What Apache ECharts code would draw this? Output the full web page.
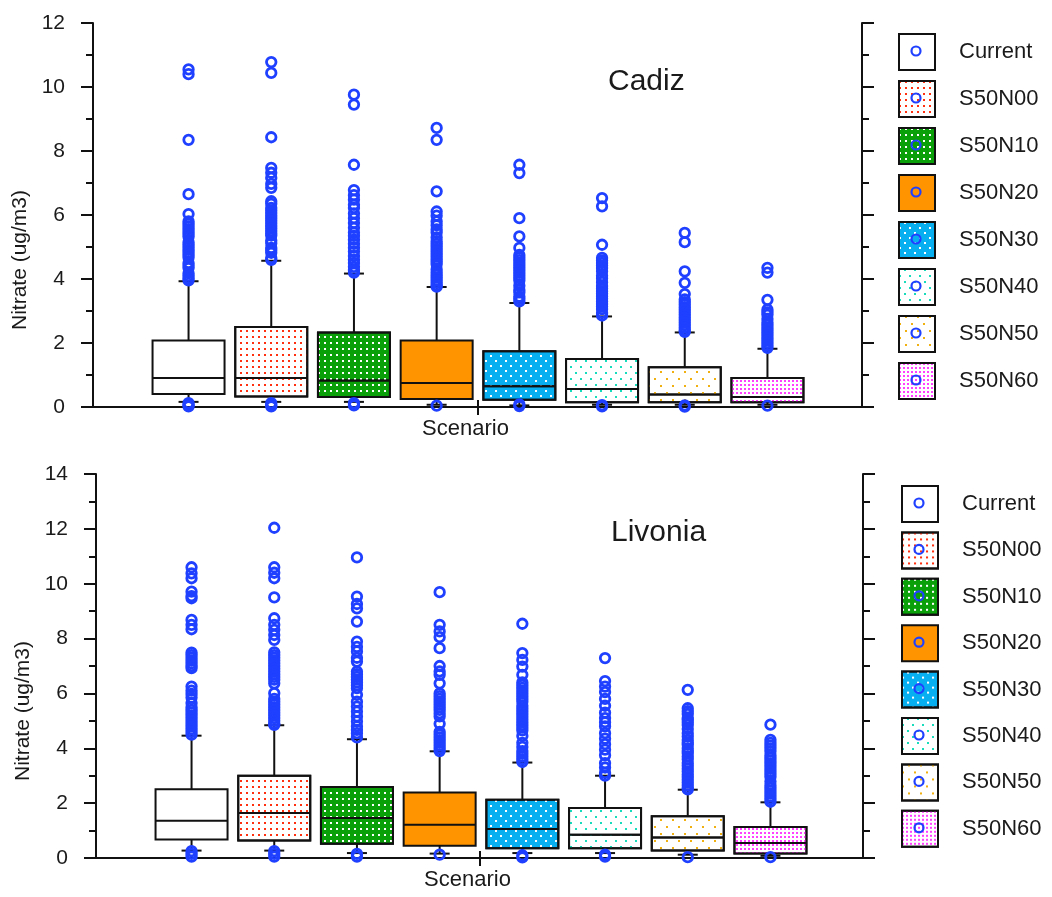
<!DOCTYPE html>
<html>
<head>
<meta charset="utf-8">
<script src="https://cdn.jsdelivr.net/npm/echarts@6/dist/echarts.min.js"></script>
<style>
  html, body { margin: 0; padding: 0; background: #ffffff; }
  #chart { width: 1052px; height: 897px; }
</style>
</head>
<body>
<div id="chart"></div>
<script>
// ---- data ---------------------------------------------------------------
const scenarios = ['Current', 'S50N00', 'S50N10', 'S50N20', 'S50N30', 'S50N40', 'S50N50', 'S50N60'];
const sites = ['Cadiz', 'Livonia'];
const xCategory = ['Scenario'];
const yAxisMax = [12, 14];
const yAxisStep = [2, 2];

// Cadiz: whiskers, quartiles and median per scenario (ug/m3)
const cadizLow    = [0.16, 0.16, 0.16, 0.07, 0.05, 0.07, 0.07, 0.07];
const cadizQ1     = [0.41, 0.33, 0.31, 0.25, 0.23, 0.15, 0.15, 0.15];
const cadizMedian = [0.91, 0.91, 0.83, 0.75, 0.65, 0.56, 0.39, 0.31];
const cadizQ3     = [2.08, 2.50, 2.33, 2.08, 1.74, 1.50, 1.24, 0.91];
const cadizHigh   = [3.93, 4.57, 4.17, 3.75, 3.25, 2.83, 2.33, 1.82];
const cadizOutliers = [
  [10.55, 10.4, 8.35, 6.65, 6.03, 5.8, 5.72, 5.64, 5.56, 5.48, 5.40, 5.32, 5.15, 5.07, 4.99, 4.91, 4.83, 4.75, 4.67, 4.50, 4.42, 4.34, 4.18, 4.10, 4.02, 3.96, 0.12, 0.06, 0.02],
  [10.78, 10.44, 8.43, 7.47, 7.32, 7.16, 6.97, 6.85, 6.43, 6.35, 6.22, 6.14, 6.06, 5.98, 5.90, 5.82, 5.74, 5.66, 5.58, 5.50, 5.42, 5.36, 5.20, 5.12, 4.97, 4.90, 4.82, 4.66, 4.60, 0.12, 0.06, 0.02],
  [9.76, 9.45, 7.57, 6.78, 6.62, 6.48, 6.32, 6.22, 6.05, 5.9, 5.75, 5.6, 5.45, 5.35, 5.23, 5.1, 4.98, 4.86, 4.72, 4.6, 4.5, 4.38, 4.28, 4.2, 0.12, 0.05],
  [8.72, 8.35, 6.74, 6.11, 5.98, 5.8, 5.68, 5.55, 5.45, 5.3, 5.18, 5.1, 5.02, 4.94, 4.86, 4.78, 4.7, 4.62, 4.54, 4.46, 4.3, 4.2, 4.12, 4.04, 3.96, 3.88, 3.8, 3.76, 0.04],
  [7.57, 7.31, 5.9, 5.33, 4.97, 4.75, 4.67, 4.59, 4.51, 4.43, 4.35, 4.27, 4.19, 4.11, 4.03, 3.95, 3.79, 3.66, 3.58, 3.45, 3.38, 3.3, 0.08, 0.03],
  [6.53, 6.27, 5.07, 4.66, 4.58, 4.5, 4.42, 4.34, 4.24, 4.1, 4.02, 3.9, 3.78, 3.7, 3.62, 3.54, 3.46, 3.38, 3.3, 3.22, 3.14, 3.06, 2.94, 2.86, 0.06, 0.02],
  [5.44, 5.15, 4.24, 3.88, 3.53, 3.36, 3.28, 3.2, 3.12, 3.04, 2.96, 2.88, 2.8, 2.72, 2.64, 2.56, 2.48, 2.4, 2.35, 0.05, 0.01],
  [4.35, 4.2, 3.35, 3.04, 2.96, 2.88, 2.75, 2.64, 2.56, 2.48, 2.4, 2.32, 2.24, 2.16, 2.08, 2.0, 1.92, 1.85, 0.04]
];

// Livonia: whiskers, quartiles and median per scenario (ug/m3)
const livoniaLow    = [0.27, 0.27, 0.18, 0.16, 0.18, 0.18, 0.12, 0.08];
const livoniaQ1     = [0.67, 0.64, 0.52, 0.45, 0.36, 0.36, 0.27, 0.16];
const livoniaMedian = [1.36, 1.64, 1.46, 1.21, 1.06, 0.85, 0.75, 0.55];
const livoniaQ3     = [2.51, 3.00, 2.59, 2.39, 2.12, 1.82, 1.52, 1.13];
const livoniaHigh   = [4.46, 4.84, 4.33, 3.89, 3.48, 3.00, 2.49, 2.03];
const livoniaOutliers = [
  [10.6, 10.38, 10.2, 9.71, 9.55, 9.47, 8.68, 8.5, 8.34, 7.49, 7.4, 7.3, 7.2, 7.1, 7.0, 6.92, 6.25, 6.1, 5.98, 5.85, 5.65, 5.5, 5.4, 5.3, 5.2, 5.1, 5.0, 4.9, 4.8, 4.7, 4.6, 4.5, 0.25, 0.15, 0.05],
  [12.04, 10.6, 10.4, 10.2, 9.5, 8.74, 8.5, 8.32, 8.13, 7.95, 7.5, 7.4, 7.3, 7.2, 7.1, 7.0, 6.9, 6.8, 6.7, 6.6, 6.5, 6.37, 6.01, 5.8, 5.7, 5.6, 5.5, 5.4, 5.3, 5.2, 5.1, 5.0, 4.9, 4.85, 0.25, 0.15, 0.05],
  [10.96, 9.53, 9.26, 9.1, 8.62, 7.89, 7.7, 7.53, 7.3, 7.16, 6.8, 6.7, 6.6, 6.5, 6.4, 6.3, 6.19, 5.95, 5.7, 5.52, 5.34, 5.16, 4.98, 4.8, 4.67, 4.55, 4.4, 0.15, 0.05],
  [9.69, 8.5, 8.26, 8.05, 7.65, 7.0, 6.8, 6.68, 6.37, 6.0, 5.9, 5.8, 5.7, 5.6, 5.5, 5.4, 5.28, 5.16, 4.89, 4.6, 4.5, 4.4, 4.3, 4.2, 4.1, 4.0, 3.9, 0.12],
  [8.54, 7.47, 7.22, 6.98, 6.68, 6.4, 6.3, 6.2, 6.1, 6.0, 5.9, 5.8, 5.7, 5.55, 5.45, 5.35, 5.25, 5.15, 5.05, 4.95, 4.85, 4.75, 4.65, 4.45, 4.2, 4.05, 3.9, 3.8, 3.7, 3.6, 3.5, 0.1, 0.02],
  [7.29, 6.45, 6.25, 6.05, 5.8, 5.55, 5.3, 5.1, 4.95, 4.8, 4.55, 4.35, 4.15, 3.95, 3.75, 3.46, 3.3, 3.1, 3.0, 0.12, 0.05],
  [6.13, 5.46, 5.35, 5.25, 5.1, 5.04, 4.95, 4.85, 4.7, 4.55, 4.43, 4.3, 4.2, 4.13, 4.0, 3.9, 3.82, 3.7, 3.6, 3.46, 3.36, 3.25, 3.15, 3.04, 2.95, 2.85, 2.75, 2.65, 2.55, 2.5, 0.03],
  [4.86, 4.31, 4.2, 4.1, 4.0, 3.89, 3.75, 3.65, 3.55, 3.45, 3.35, 3.25, 3.15, 3.05, 2.95, 2.79, 2.65, 2.55, 2.45, 2.35, 2.25, 2.15, 2.05, 0.03]
];

// ---- look ---------------------------------------------------------------
const FONT = '"Liberation Sans", Arial, Helvetica, sans-serif';
const INK = '#1a1a1a';
const OUTLIER_BLUE = '#1f40ff';

// fill colour and dot pattern of each scenario box
const scenarioLooks = [
  { fill: '#ffffff', decal: null },
  { fill: '#ffffff', decal: { symbol: 'rect', symbolSize: 1, color: '#ff3010', dashArrayX: [2, 4], dashArrayY: [2, 4] } },
  { fill: '#0aa00a', decal: { symbol: 'rect', symbolSize: 1, color: '#ffffff', dashArrayX: [2, 4], dashArrayY: [2, 4] } },
  { fill: '#ff9400', decal: null },
  { fill: '#07aff0', decal: { symbol: 'rect', symbolSize: 1, color: '#ffffff', dashArrayX: [[2, 8], [0, 5, 2, 3]], dashArrayY: [2, 3] } },
  { fill: '#ffffff', decal: { symbol: 'rect', symbolSize: 1, color: '#18dcbc', dashArrayX: [[2, 8], [0, 5, 2, 3]], dashArrayY: [2, 4] } },
  { fill: '#ffffff', decal: { symbol: 'rect', symbolSize: 1, color: '#f0b010', dashArrayX: [[2, 10], [0, 6, 2, 4]], dashArrayY: [2, 5] } },
  { fill: '#ffffff', decal: { symbol: 'rect', symbolSize: 1, color: '#ff40ff', dashArrayX: [2, 2], dashArrayY: [2, 2] } }
];

// panel frames (plot area) and legend placement
const panels = [
  { frame: { left: 93, top: 23, width: 769, height: 384 }, boxCenter: 478, title: { left: 603, top: 62 },
    legend: { left: 898, top: 33, step: 47 } },
  { frame: { left: 96, top: 474, width: 767, height: 384 }, boxCenter: 481, title: { left: 606, top: 513 },
    legend: { left: 901, top: 485, step: 46.4 } }
];

const SWATCH = 36;       // legend swatch size, px
const SWATCH_EXTRA = 2;  // extra height the legend adds per item, px
const BOX_STEP = 82.7;   // distance between neighbouring boxes, px
const BOX_WIDTH = 72;    // box width, px
const CAP_HALF = 10;     // half width of whisker caps, px

// Width of the band that makes the boxplot layout space n boxes BOX_STEP apart,
// and the matching value range so scatter/whisker x = i sits on box i.
const N = scenarios.length;
const avail = BOX_STEP * N * N / (N + 0.3);
const bandW = (avail + 2) / 0.8;
const gapW = avail / N * 0.3;
const autoW = (avail - gapW * (N - 1)) / N;
const firstOffset = autoW / 2 - avail / 2;
const xValMin = (-bandW / 2 - firstOffset) / BOX_STEP;
const xValMax = (bandW / 2 - firstOffset) / BOX_STEP;

const stats = [
  { low: cadizLow, q1: cadizQ1, med: cadizMedian, q3: cadizQ3, high: cadizHigh, out: cadizOutliers },
  { low: livoniaLow, q1: livoniaQ1, med: livoniaMedian, q3: livoniaQ3, high: livoniaHigh, out: livoniaOutliers }
];

const axisLineStyle = { color: '#111', width: 2 };

function renderWhisker(params, api) {
  const x = api.value(0);
  const pHi = api.coord([x, api.value(1)]);
  const pQ3 = api.coord([x, api.value(2)]);
  const pQ1 = api.coord([x, api.value(3)]);
  const pLo = api.coord([x, api.value(4)]);
  const st = { stroke: '#111', lineWidth: 2 };
  return {
    type: 'group',
    children: [
      { type: 'line', shape: { x1: pHi[0], y1: pHi[1], x2: pQ3[0], y2: pQ3[1] }, style: st },
      { type: 'line', shape: { x1: pHi[0] - CAP_HALF, y1: pHi[1], x2: pHi[0] + CAP_HALF, y2: pHi[1] }, style: st },
      { type: 'line', shape: { x1: pQ1[0], y1: pQ1[1], x2: pLo[0], y2: pLo[1] }, style: st },
      { type: 'line', shape: { x1: pLo[0] - CAP_HALF, y1: pLo[1], x2: pLo[0] + CAP_HALF, y2: pLo[1] }, style: st }
    ]
  };
}

const grid = [], xAxis = [], yAxis = [], series = [], title = [], legend = [], graphic = [];

panels.forEach((panel, p) => {
  const s = stats[p];
  const f = panel.frame;
  const gFrame = grid.length;
  grid.push({ left: f.left, top: f.top, width: f.width, height: f.height, containLabel: false });
  const gData = grid.length;
  grid.push({ left: panel.boxCenter - bandW / 2, top: f.top, width: bandW, height: f.height, containLabel: false });

  const xb = xAxis.length;
  xAxis.push({
    gridIndex: gFrame, type: 'category', data: xCategory, position: 'bottom',
    axisLine: { show: true, lineStyle: axisLineStyle },
    axisTick: { show: true, alignWithLabel: true, length: 8, lineStyle: axisLineStyle },
    axisLabel: { fontSize: 22, color: INK, fontFamily: FONT, margin: 11, padding: [0, 24, 0, 0] },
    splitLine: { show: false }
  });
  xAxis.push({
    gridIndex: gFrame, type: 'category', data: xCategory, position: 'top',
    axisLine: { show: true, lineStyle: axisLineStyle },
    axisTick: { show: true, alignWithLabel: true, length: 7, lineStyle: axisLineStyle },
    axisLabel: { show: false }, splitLine: { show: false }
  });
  xAxis.push({ gridIndex: gData, type: 'category', data: xCategory, show: false });
  xAxis.push({ gridIndex: gData, type: 'value', min: xValMin, max: xValMax, show: false });

  const yb = yAxis.length;
  const yCommon = {
    gridIndex: gFrame, type: 'value', min: 0, max: yAxisMax[p], interval: yAxisStep[p],
    axisLine: { show: true, lineStyle: axisLineStyle },
    axisTick: { show: true, length: 12, lineStyle: axisLineStyle },
    minorTick: { show: true, splitNumber: 2, length: 7, lineStyle: axisLineStyle },
    splitLine: { show: false }, minorSplitLine: { show: false }
  };
  yAxis.push(Object.assign({}, yCommon, {
    position: 'left',
    axisLabel: { fontSize: 21, color: INK, fontFamily: FONT, margin: 28 },
    name: 'Nitrate (ug/m3)', nameLocation: 'middle', nameGap: 60,
    nameTextStyle: { fontSize: 21, color: INK, fontFamily: FONT, padding: [0, 90, 0, 0] }
  }));
  yAxis.push(Object.assign({}, yCommon, { position: 'right', axisLabel: { show: false } }));
  yAxis.push({ gridIndex: gData, type: 'value', min: 0, max: yAxisMax[p], show: false });

  scenarios.forEach((name, i) => {
    const look = scenarioLooks[i];
    series.push({
      name: name, type: 'boxplot',
      xAxisIndex: xb + 2, yAxisIndex: yb + 2,
      boxWidth: [BOX_WIDTH, BOX_WIDTH],
      itemStyle: Object.assign({ color: look.fill, borderColor: '#111', borderWidth: 2 },
                               look.decal ? { decal: look.decal } : {}),
      emphasis: { disabled: true },
      z: 2,
      // the whiskers are drawn separately with short caps
      data: [[s.q1[i], s.q1[i], s.med[i], s.q3[i], s.q3[i]]]
    });
  });

  series.push({
    name: sites[p] + ' whiskers', type: 'custom',
    xAxisIndex: xb + 3, yAxisIndex: yb + 2,
    renderItem: renderWhisker,
    encode: { x: 0, y: [1, 2, 3, 4] },
    z: 3, silent: true,
    data: scenarios.map((_, i) => [i, s.high[i], s.q3[i], s.q1[i], s.low[i]])
  });

  series.push({
    name: sites[p] + ' outliers', type: 'scatter',
    xAxisIndex: xb + 3, yAxisIndex: yb + 2,
    symbol: 'circle', symbolSize: 9.5,
    itemStyle: { color: 'rgba(0,0,0,0)', borderColor: OUTLIER_BLUE, borderWidth: 2.8, opacity: 1 },
    emphasis: { disabled: true },
    z: 4, silent: true,
    data: s.out.flatMap((vals, i) => vals.map(v => [i, v]))
  });

  title.push({
    text: sites[p], left: panel.title.left, top: panel.title.top,
    textStyle: { fontSize: 30, fontWeight: 'normal', color: INK, fontFamily: FONT }
  });

  legend.push({
    orient: 'vertical', left: panel.legend.left, top: panel.legend.top, padding: 0,
    itemWidth: SWATCH, itemHeight: SWATCH, itemGap: panel.legend.step - SWATCH - SWATCH_EXTRA,
    icon: 'rect', selectedMode: false,
    data: scenarios.map((name, i) => ({
      name: name,
      itemStyle: { color: scenarioLooks[i].fill, borderColor: '#111', borderWidth: 2 }
    })),
    itemStyle: { borderColor: '#111', borderWidth: 2 },
    textStyle: { fontSize: 22, color: INK, fontFamily: FONT, padding: [0, 0, 0, 19] }
  });

  // outlier ring inside each legend swatch
  scenarios.forEach((_, i) => {
    graphic.push({
      type: 'circle', z: 100,
      shape: { cx: panel.legend.left + SWATCH / 2, cy: panel.legend.top + SWATCH / 2 + i * panel.legend.step, r: 4.5 },
      style: { fill: 'none', stroke: OUTLIER_BLUE, lineWidth: 2.2 }
    });
  });
});

const chart = echarts.init(document.getElementById('chart'), null, { renderer: 'canvas' });
chart.setOption({
  backgroundColor: '#ffffff',
  animation: false,
  textStyle: { fontFamily: FONT },
  title: title,
  legend: legend,
  grid: grid,
  xAxis: xAxis,
  yAxis: yAxis,
  series: series,
  graphic: graphic
});
</script>
</body>
</html>
